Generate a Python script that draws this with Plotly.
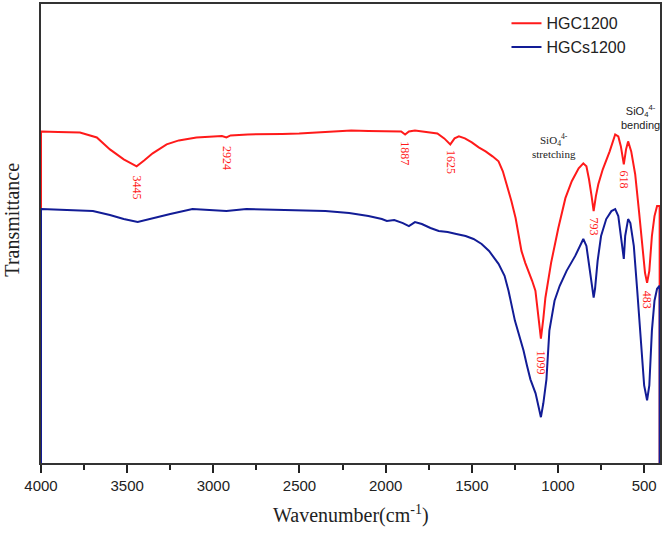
import plotly.graph_objects as go

# ---- data (wavenumber cm-1, transmittance arbitrary units) ----
red_wn = [4000, 4000, 3900, 3774, 3676, 3600, 3520, 3445, 3400, 3352, 3271, 3200, 3098, 3000, 2950, 2924, 2900,
          2800, 2700, 2600, 2502, 2400, 2300, 2200, 2100, 2000, 1950, 1910, 1887, 1865, 1830, 1780, 1740, 1700,
          1660, 1625, 1600, 1575, 1540, 1500, 1460, 1420, 1380, 1345, 1320, 1298, 1270, 1246, 1212, 1190, 1171,
          1150, 1131, 1115, 1099, 1085, 1073, 1040, 998, 957, 920, 880, 853, 835, 820, 805, 793, 780, 766, 740,
          700, 668, 650, 635, 618, 605, 593, 575, 552, 530, 510, 495, 483, 470, 455, 440, 425, 410, 410]
red_t = [0, 333, 332.5, 332, 327, 315, 305, 298, 304, 311, 320, 324, 327, 328, 328.5, 327, 329,
         330, 330, 330.5, 331, 332, 333, 334, 333.5, 333.5, 333, 333, 330, 333, 334, 333, 332, 331,
         326, 320, 326, 328, 326, 322, 317, 313, 308, 303, 293, 280, 263, 246, 213, 201, 193,
         183, 173, 148, 125, 145, 166, 201, 236, 266, 283, 296, 301, 298, 285, 268, 253, 268, 280, 295,
         313, 330, 328, 318, 300, 315, 323, 313, 290, 253, 213, 191, 181, 193, 228, 248, 258, 258, 0]

blue_wn = [4000, 4000, 3850, 3699, 3600, 3520, 3439, 3350, 3250, 3121, 3000, 2924, 2808, 2700, 2502, 2350,
           2212, 2100, 2022, 1993, 1950, 1900, 1865, 1830, 1790, 1740, 1692, 1640, 1590, 1536, 1490, 1443,
           1400, 1345, 1310, 1287, 1250, 1200, 1180, 1160, 1130, 1115, 1099, 1085, 1067, 1050, 1020, 990,
           950, 900, 870, 853, 835, 815, 800, 793, 785, 770, 750, 720, 690, 668, 650, 635, 618, 610, 593,
           580, 560, 540, 520, 500, 483, 470, 455, 440, 425, 410, 410]
blue_t = [0, 255, 254, 253, 249, 245, 242, 246, 250, 255, 254, 253, 255, 254.5, 254, 253,
          251, 248, 245, 243, 244, 241, 238, 242, 240, 236, 233, 232, 230, 228, 225, 220,
          213, 200, 188, 173, 143, 113, 98, 84, 70, 58, 46, 60, 84, 133, 163, 178,
          193, 208, 220, 225, 218, 193, 173, 166, 175, 203, 228, 245, 253, 255, 248, 228, 205, 228, 245,
          241, 218, 173, 123, 78, 63, 78, 133, 163, 175, 178, 0]

peak_labels = ["3445", "2924", "1887", "1625", "1099", "793", "618", "483"]
peak_x = [3445, 2924, 1887, 1625, 1099, 793, 618, 483]
peak_y = [277, 306, 311, 302, 101, 238, 285, 164]

tick_vals = [4000, 3500, 3000, 2500, 2000, 1500, 1000, 500]
tick_text = ["4000", "3500", "3000", "2500", "2000", "1500", "1000", "500"]

series_names = ["HGC1200", "HGCs1200"]
RED = "#ff1a1a"
BLUE = "#121c96"

fig = go.Figure()
fig.add_trace(go.Scatter(x=red_wn, y=red_t, mode="lines", name=series_names[0],
                         line=dict(color=RED, width=2)))
fig.add_trace(go.Scatter(x=blue_wn, y=blue_t, mode="lines", name=series_names[1],
                         line=dict(color=BLUE, width=2)))

for lab, px, py in zip(peak_labels, peak_x, peak_y):
    fig.add_annotation(x=px, y=py, text=lab, showarrow=False, textangle=90,
                       font=dict(family="Liberation Serif, Times New Roman", size=12, color=RED))

fig.add_annotation(x=1026, y=318, text="SiO<sub>4</sub><sup>4-</sup><br>stretching", showarrow=False,
                   font=dict(family="Liberation Serif, Times New Roman", size=11, color="#222"))
fig.add_annotation(x=523, y=348, text="SiO<sub>4</sub><sup>4-</sup><br>bending", showarrow=False,
                   font=dict(family="Liberation Sans, Arial", size=11, color="#222"))

fig.add_annotation(xref="paper", yref="paper", x=0.5, y=-0.113, text="Wavenumber(cm<sup>-1</sup>)",
                   showarrow=False, yanchor="middle",
                   font=dict(family="Liberation Serif, Times New Roman", size=20, color="#222"))
fig.add_annotation(xref="paper", yref="paper", x=-0.047, y=0.53, text="Transmittance",
                   showarrow=False, textangle=-90, xanchor="center",
                   font=dict(family="Liberation Serif, Times New Roman", size=20, color="#222"))

fig.update_layout(
    width=664, height=537,
    margin=dict(l=41, r=3, t=2, b=74),
    plot_bgcolor="white", paper_bgcolor="white",
    showlegend=True,
    legend=dict(x=0.752, y=0.995, xanchor="left", yanchor="top",
                font=dict(family="Liberation Sans, Arial", size=16, color="#222"),
                bgcolor="rgba(0,0,0,0)", tracegroupgap=0),
    xaxis=dict(range=[4000, 408], tickvals=tick_vals, ticktext=tick_text,
               ticks="outside", ticklen=8, tickwidth=1.5, tickcolor="#222",
               minor=dict(ticks="outside", ticklen=5, tickwidth=1.5, tickcolor="#222", dtick=250),
               showline=True, linecolor="#333", linewidth=1.5, mirror=True,
               showgrid=False, zeroline=False,
               tickfont=dict(family="Liberation Sans, Arial", size=15, color="#222")),
    yaxis=dict(range=[0, 461], showticklabels=False, ticks="",
               showline=True, linecolor="#333", linewidth=1.5, mirror=True,
               showgrid=False, zeroline=False),
)

fig.write_html("out.html", config={"displayModeBar": False},
               post_script="document.body.style.margin='0';document.body.style.overflow='hidden';")
